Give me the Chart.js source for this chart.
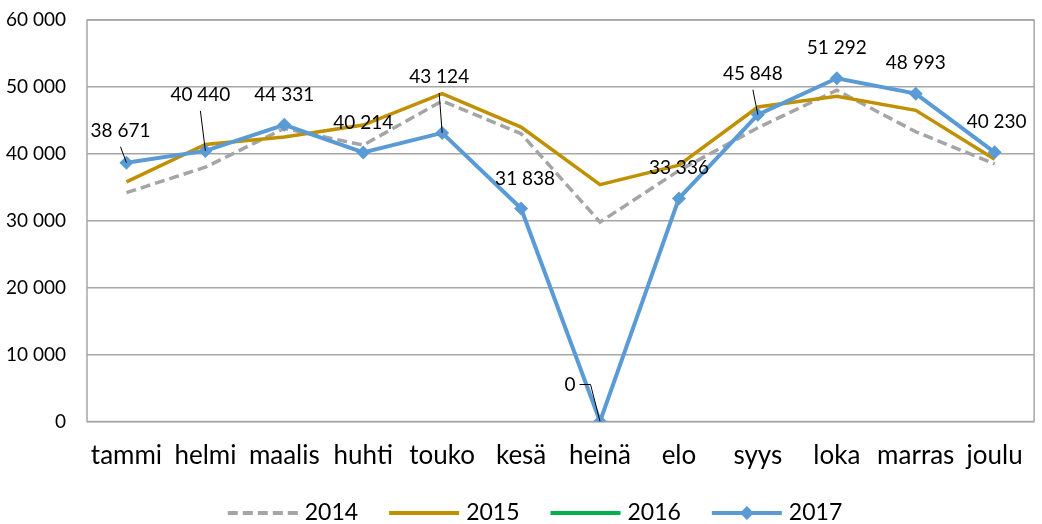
<!DOCTYPE html>
<html>
<head>
<meta charset="utf-8">
<script src="https://cdn.jsdelivr.net/npm/chart.js@4/dist/chart.umd.min.js"></script>
<style>
  html, body { margin: 0; padding: 0; background: #fff; }
  #wrap { width: 1042px; height: 524px; }
</style>
</head>
<body>
<div id="wrap"><canvas id="kuukaudet" width="1042" height="524"></canvas></div>
<script>
// Kuukaudet ja sarjat
const kuukaudet = ['tammi', 'helmi', 'maalis', 'huhti', 'touko', 'kesä', 'heinä', 'elo', 'syys', 'loka', 'marras', 'joulu'];
const vuodet = ['2014', '2015', '2016', '2017'];
const arvot2014 = [34200, 38000, 43800, 41300, 47900, 43000, 29800, 37500, 43900, 49500, 43300, 38500];
const arvot2015 = [35800, 41400, 42500, 44300, 49000, 44000, 35400, 38300, 47000, 48600, 46500, 39200];
const arvot2016 = [null, null, null, null, null, null, null, null, null, null, null, null];
const arvot2017 = [38671, 40440, 44331, 40214, 43124, 31838, 0, 33336, 45848, 51292, 48993, 40230];
const yMin = 0, yMax = 60000, yStep = 10000;

// Arvotunnisteiden siirrot (px) ja johtoviivat
const tunnisteSiirto = [[-6, -32], [-5, -56], [0, -30], [0, -30], [-3, -56], [4, -30], [-30, -37], [0, -31], [-5, -41], [0, -30], [0, -31], [2, -30]];
const johtoviiva = ['suora', 'suora', null, null, 'suora', null, 'kulma', null, 'suora', null, null, null];

const varit = ['#A5A5A5', '#BF9000', '#00B050', '#5B9BD5'];
const fontti = 'Lato, "Open Sans", sans-serif';

function muotoile(n) {
    return String(n).replace(/\B(?=(\d{3})+(?!\d))/g, ' ');
}

// Arvotunnisteet 2017-sarjalle
const tunnisteet = {
    id: 'tunnisteet',
    afterDatasetsDraw(chart) {
        const meta = chart.getDatasetMeta(3);
        const ctx = chart.ctx;
        ctx.save();
        ctx.font = '19px ' + fontti;
        ctx.fillStyle = '#000';
        ctx.strokeStyle = '#000';
        ctx.lineWidth = 1;
        ctx.textAlign = 'center';
        ctx.textBaseline = 'middle';
        meta.data.forEach((p, i) => {
            const tx = p.x + tunnisteSiirto[i][0];
            const ty = p.y + tunnisteSiirto[i][1];
            const teksti = muotoile(arvot2017[i]);
            ctx.fillText(teksti, tx, ty);
            if (johtoviiva[i] === 'suora') {
                ctx.beginPath();
                ctx.moveTo(tx, ty + 16);
                ctx.lineTo(p.x, p.y);
                ctx.stroke();
            } else if (johtoviiva[i] === 'kulma') {
                const w = ctx.measureText(teksti).width;
                ctx.beginPath();
                ctx.moveTo(tx + w / 2 + 4, ty);
                ctx.lineTo(tx + w / 2 + 15, ty);
                ctx.lineTo(p.x, p.y);
                ctx.stroke();
            }
        });
        ctx.restore();
    }
};

// Piirtoalueen kehys
const kehys = {
    id: 'kehys',
    beforeDatasetsDraw(chart) {
        const a = chart.chartArea;
        const ctx = chart.ctx;
        ctx.save();
        ctx.strokeStyle = '#A6A6A6';
        ctx.lineWidth = 1.5;
        ctx.strokeRect(a.left, a.top, a.right - a.left, a.bottom - a.top);
        ctx.restore();
    }
};

// Selite alareunaan
const selite = {
    id: 'selite',
    afterDraw(chart) {
        const ctx = chart.ctx;
        ctx.save();
        ctx.font = '23px ' + fontti;
        ctx.textBaseline = 'middle';
        const viiva = 70, vali = 7, rako = 31;
        const leveydet = vuodet.map(v => ctx.measureText(v).width);
        const kokonais = leveydet.reduce((s, w) => s + viiva + vali + w, 0) + rako * (vuodet.length - 1);
        let x = 535 - kokonais / 2;
        const y = 513;
        vuodet.forEach((v, i) => {
            ctx.strokeStyle = varit[i];
            ctx.lineWidth = 4;
            ctx.setLineDash(i === 0 ? [10, 5] : []);
            ctx.beginPath();
            ctx.moveTo(x, y);
            ctx.lineTo(x + viiva, y);
            ctx.stroke();
            ctx.setLineDash([]);
            if (i === 3) {
                const cx = x + viiva / 2;
                ctx.fillStyle = varit[i];
                ctx.beginPath();
                ctx.moveTo(cx, y - 7);
                ctx.lineTo(cx + 7, y);
                ctx.lineTo(cx, y + 7);
                ctx.lineTo(cx - 7, y);
                ctx.closePath();
                ctx.fill();
            }
            ctx.fillStyle = '#000';
            ctx.fillText(v, x + viiva + vali, y);
            x += viiva + vali + leveydet[i] + rako;
        });
        ctx.restore();
    }
};

const sarjat = [arvot2014, arvot2015, arvot2016, arvot2017];

new Chart(document.getElementById('kuukaudet').getContext('2d'), {
    type: 'line',
    data: {
        labels: kuukaudet,
        datasets: sarjat.map((d, i) => ({
            label: vuodet[i],
            data: d,
            borderColor: varit[i],
            backgroundColor: varit[i],
            borderWidth: i === 3 ? 4 : 3.5,
            borderDash: i === 0 ? [10, 5] : [],
            pointRadius: i === 3 ? 7 : 0,
            pointStyle: 'rectRot',
            pointBorderWidth: 0,
            pointBackgroundColor: varit[i],
            tension: 0,
            order: 3 - i
        }))
    },
    options: {
        responsive: false,
        animation: false,
        events: [],
        layout: { padding: { top: 20, right: 1, bottom: 50, left: 0 } },
        plugins: { legend: { display: false }, tooltip: { enabled: false } },
        scales: {
            x: {
                offset: true,
                grid: { display: false, drawTicks: false },
                border: { display: false },
                ticks: { color: '#000', padding: 19, autoSkip: false, font: { family: fontti, size: 26 }, maxRotation: 0 },
                afterFit(scale) { scale.height = 52.5; }
            },
            y: {
                min: yMin,
                max: yMax,
                grid: { color: '#A6A6A6', lineWidth: 1.5, drawTicks: false },
                border: { display: false },
                ticks: {
                    stepSize: yStep,
                    color: '#000',
                    padding: 21,
                    font: { family: fontti, size: 19 },
                    callback: v => muotoile(v)
                },
                afterFit(scale) {
                    scale.width = 87;
                    scale.paddingTop = 0;
                    scale.paddingBottom = 0;
                }
            }
        }
    },
    plugins: [kehys, tunnisteet, selite]
});
</script>
</body>
</html>
